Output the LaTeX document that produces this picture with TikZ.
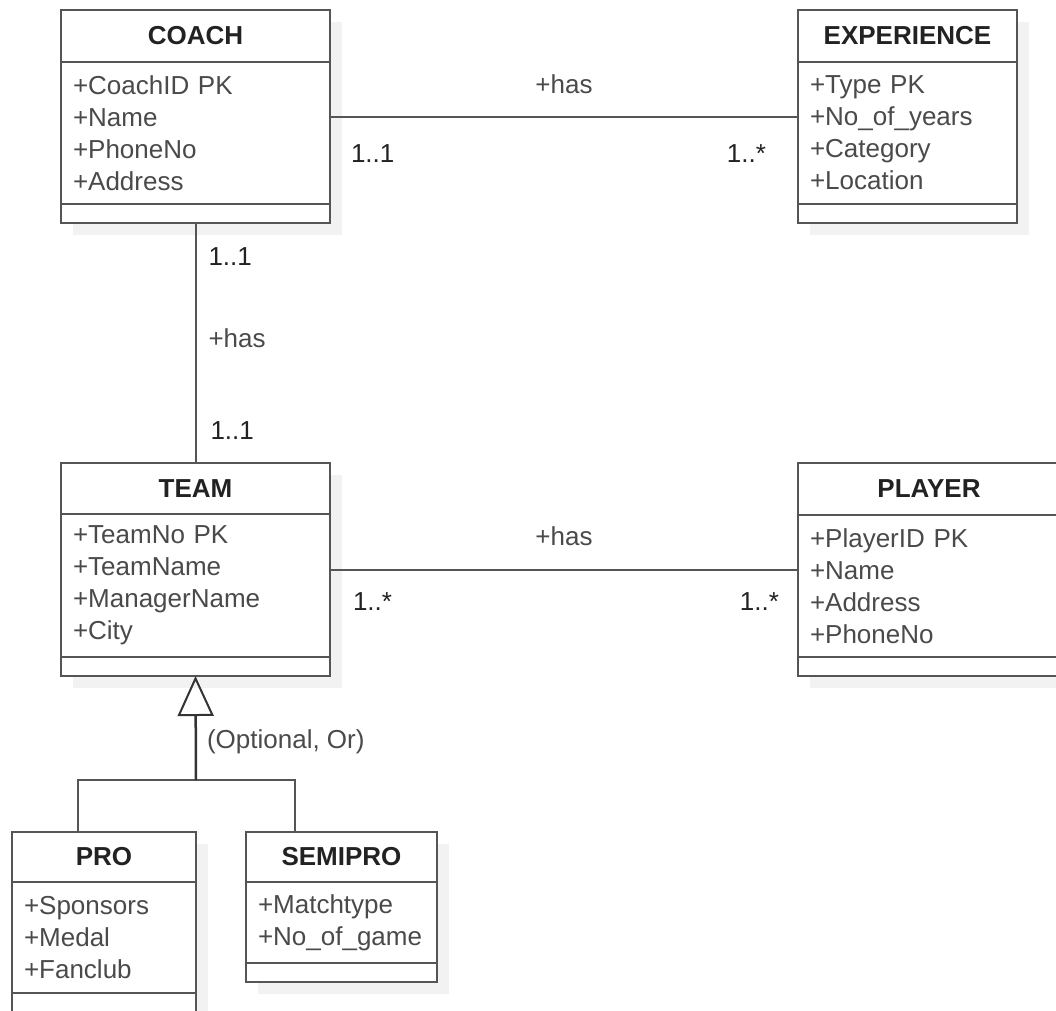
\documentclass[tikz,border=0pt]{standalone}
\usepackage{fontspec}
\setmainfont{Liberation Sans}
\usepackage{xcolor}
\usepackage{tikz}
\usetikzlibrary{positioning}
\usetikzlibrary{arrows.meta}
\usetikzlibrary{shadows}
\definecolor{umlline}{HTML}{555555}
\definecolor{umltext}{HTML}{4A4A4A}
\definecolor{umltitle}{HTML}{222222}
\definecolor{umlshadow}{HTML}{F2F2F2}
\tikzset{
    part/.style = {rectangle, draw=umlline, line width=2pt, fill=white, outer sep=0pt, inner xsep=12pt, inner ysep=0pt,
                   font=\fontsize{26}{32}\selectfont, drop shadow={shadow xshift=12pt, shadow yshift=-12pt, fill=umlshadow, opacity=1}},
    title_part/.style = {part, text=umltitle, font=\fontsize{26}{32}\selectfont\bfseries, align=center},
    attr_part/.style = {part, text=umltext, align=left},
    ops_part/.style = {part, minimum height=19pt},
    mult/.style = {inner sep=0pt, text=umltitle, font=\fontsize{26}{32}\selectfont},
    role/.style = {inner sep=0pt, text=umltext, font=\fontsize{26}{32}\selectfont},
    assoc/.style = {draw=umlline, line width=2pt},
    generalize/.style = {draw=black!80, line width=2.5pt, -{Triangle[open, length=40pt, width=36pt, line width=2pt]}}
}
\begin{document}
\begin{tikzpicture}[x=1pt, y=-1pt]
    \useasboundingbox (0,0) rectangle (1056,1010);

    % classes
    \node [title_part, text width=245pt, minimum height=52pt, anchor=north west] (coach) at (61,10) {COACH};
    \node [attr_part, text width=245pt, minimum height=142pt, below=0pt of coach] (coach_attr)
        {+CoachID PK\\+Name\\+PhoneNo\\+Address};
    \node [ops_part, text width=245pt, below=0pt of coach_attr] (coach_ops) {};

    \node [title_part, text width=195pt, minimum height=52pt, anchor=north west] (exp) at (798,10) {EXPERIENCE};
    \node [attr_part, text width=195pt, minimum height=142pt, below=0pt of exp] (exp_attr)
        {+Type PK\\+No\_of\_years\\+Category\\+Location};
    \node [ops_part, text width=195pt, below=0pt of exp_attr] (exp_ops) {};

    \node [title_part, text width=245pt, minimum height=51pt, anchor=north west] (team) at (61,463) {TEAM};
    \node [attr_part, text width=245pt, minimum height=143pt, below=0pt of team] (team_attr)
        {+TeamNo PK\\+TeamName\\+ManagerName\\+City};
    \node [ops_part, text width=245pt, below=0pt of team_attr] (team_ops) {};

    \node [title_part, text width=238pt, minimum height=52pt, anchor=north west] (player) at (798,463) {PLAYER};
    \node [attr_part, text width=238pt, minimum height=142pt, below=0pt of player] (player_attr)
        {+PlayerID PK\\+Name\\+Address\\+PhoneNo};
    \node [ops_part, text width=238pt, below=0pt of player_attr] (player_ops) {};

    \node [title_part, text width=160pt, minimum height=50pt, anchor=north west] (pro) at (12,832) {PRO};
    \node [attr_part, text width=160pt, minimum height=111pt, below=0pt of pro] (pro_attr)
        {+Sponsors\\+Medal\\+Fanclub};
    \node [ops_part, text width=160pt, below=0pt of pro_attr] (pro_ops) {};

    \node [title_part, text width=167pt, minimum height=50pt, anchor=north west] (semipro) at (246,832) {SEMIPRO};
    \node [attr_part, text width=167pt, minimum height=81pt, below=0pt of semipro] (semipro_attr)
        {+Matchtype\\+No\_of\_game};
    \node [ops_part, text width=167pt, below=0pt of semipro_attr] (semipro_ops) {};

    % associations
    \draw [assoc] ([yshift=16pt]coach_attr.east) -- ([yshift=16pt]coach_attr.east -| exp_attr.west)
        node [role, midway, anchor=base, yshift=24pt] {+has}
        node [mult, pos=0, anchor=base west, xshift=20pt, yshift=-45pt] {1..1}
        node [mult, pos=1, anchor=base east, xshift=-31pt, yshift=-45pt] {1..*};

    \draw [assoc] (coach_ops.south) -- (team.north)
        node [mult, pos=0.175, anchor=base west, xshift=12pt] {1..1}
        node [role, pos=0.52, anchor=base west, xshift=12pt] {+has}
        node [mult, pos=0.904, anchor=base west, xshift=14pt] {1..1};

    \draw [assoc] ([yshift=16pt]team_attr.east) -- ([yshift=16pt]team_attr.east -| player_attr.west)
        node [role, midway, anchor=base, yshift=24pt] {+has}
        node [mult, pos=0, anchor=base west, xshift=22pt, yshift=-41pt] {1..*}
        node [mult, pos=1, anchor=base east, xshift=-18pt, yshift=-41pt] {1..*};

    % generalization
    \coordinate (split) at (196,780);
    \draw [assoc] ([xshift=-26pt]pro.north) |- (split) -| ([xshift=-46.5pt]semipro.north);
    \draw [generalize] (split) -- (team_ops.south)
        node [role, pos=0.365, anchor=west, xshift=10pt] {(Optional, Or)};
\end{tikzpicture}
\end{document}
